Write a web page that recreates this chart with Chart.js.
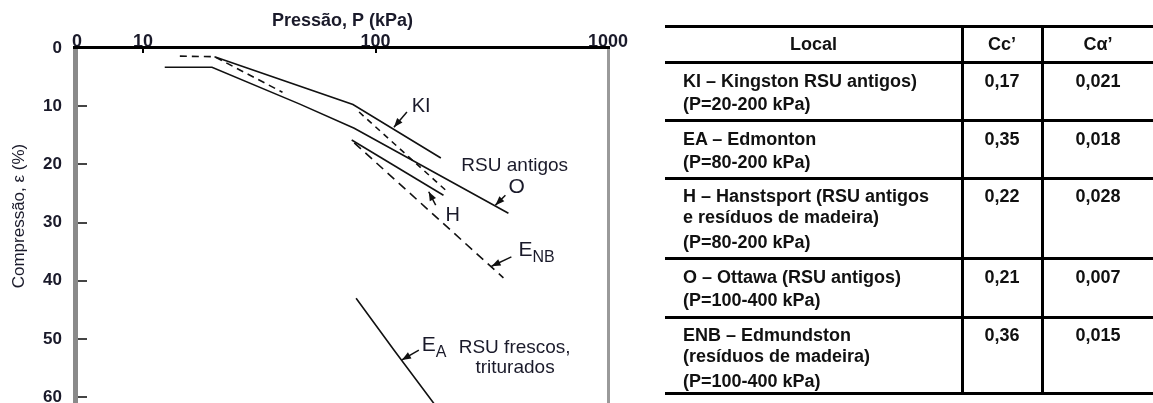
<!DOCTYPE html>
<html lang="pt">
<head>
<meta charset="UTF-8">
<title>Compressão x Pressão - RSU</title>
<script src="https://cdn.jsdelivr.net/npm/chart.js"></script>
<style>
  html, body { margin: 0; padding: 0; background: #fff; overflow: hidden; }
  body { width: 1153px; height: 403px; position: relative; font-family: 'Liberation Sans', Arial, sans-serif; }
  #chartBox { position: absolute; left: 0; top: 0; width: 640px; height: 403px; }
  #tabela { position: absolute; left: 0; top: 0; width: 1153px; height: 403px; color: #111; }
  .hl { position: absolute; height: 3px; background: #000; }
  .vl { position: absolute; width: 3px; background: #000; }
  .txt { position: absolute; font-weight: bold; font-size: 18px; line-height: 22px; white-space: nowrap; }
</style>
</head>
<body>

<div id="chartBox"><canvas id="grafico" width="640" height="403"></canvas></div>
<div id="tabela"></div>

<script>
    // eixos
    const xMin = 5.2, xMax = 1000;
    const xTickValues = [xMin, 10, 100, 1000];
    const xTickLabels = ['0', '10', '100', '1000'];
    const yTickValues = [0, 10, 20, 30, 40, 50, 60];
    const yMax = 61;

    // curvas: pressao P (kPa) e compressao (%)
    const kiP = [20.3, 80, 191];
    const kiEps = [1.5, 9.7, 18.9];
    const oP = [12.4, 19.8, 47, 81, 373];
    const oEps = [3.3, 3.3, 9.6, 13.8, 28.4];
    const enbP1 = [14.4, 20.3, 39.8];
    const enbEps1 = [1.4, 1.5, 7.6];
    const enbP2 = [81, 355];
    const enbEps2 = [16.3, 39.5];
    const hP1 = [85, 200];
    const hEps1 = [11.0, 24.4];
    const hP2 = [79, 196];
    const hEps2 = [15.8, 25.3];
    const eaP = [82.5, 120, 180];
    const eaEps = [43.0, 51.9, 61.3];

    // textos dentro do grafico
    const labelTexts = ['KI', 'RSU antigos', 'O', 'H', 'RSU frescos,', 'triturados'];
    const labelP = [143, 234, 373, 200, 228, 269];
    const labelEps = [10.0, 20.3, 24.0, 28.8, 51.5, 54.9];
    const labelSize = [20, 19, 21, 20, 19, 19];
    const subMain = ['E', 'E'];
    const subTexts = ['NB', 'A'];
    const subP = [412, 158];
    const subEps = [34.8, 51.1];

    // setas (de -> para)
    const arrowFromP = [136.5, 362, 181.5, 384, 153.6];
    const arrowFromEps = [11.0, 25.3, 27.0, 35.9, 51.9];
    const arrowToP = [120, 328, 169.4, 315.5, 129.9];
    const arrowToEps = [13.6, 27.0, 24.7, 37.5, 53.6];

    // tabela
    const tabHeader = ['Local', 'Cc’', 'Cα’'];
    const tabLocal = [
        ['KI – Kingston RSU antigos)', '(P=20-200 kPa)'],
        ['EA – Edmonton', '(P=80-200 kPa)'],
        ['H – Hanstsport (RSU antigos', 'e resíduos de madeira)', '(P=80-200 kPa)'],
        ['O – Ottawa (RSU antigos)', '(P=100-400 kPa)'],
        ['ENB – Edmundston', '(resíduos de madeira)', '(P=100-400 kPa)']
    ];
    const tabCc = ['0,17', '0,35', '0,22', '0,21', '0,36'];
    const tabCa = ['0,021', '0,018', '0,028', '0,007', '0,015'];

    const FONT = "'Liberation Sans', Arial, sans-serif";
    const TXT = '#1a1a2a';

    const pts = (p, e) => p.map((v, i) => ({ x: v, y: e[i] }));
    const line = { borderColor: '#111', borderWidth: 1.6, pointRadius: 0, showLine: true, fill: false, tension: 0 };

    const extras = {
        id: 'extras',
        afterDatasetsDraw(chart) {
            const ctx = chart.ctx;
            const { left, right, top, bottom } = chart.chartArea;
            const xs = chart.scales.x, ys = chart.scales.y;
            ctx.save();
            // molduras
            ctx.fillStyle = '#8a8a8a';
            ctx.fillRect(left - 4, top, 5, bottom - top);
            ctx.fillStyle = '#9a9a9a';
            ctx.fillRect(right - 1, top, 3, bottom - top);
            ctx.fillStyle = '#000';
            ctx.fillRect(left - 4, top - 2, right - left + 6, 3);
            // marcas
            ctx.strokeStyle = '#444';
            ctx.lineWidth = 2;
            yTickValues.slice(1).forEach(v => {
                const y = Math.round(ys.getPixelForValue(v));
                ctx.beginPath(); ctx.moveTo(left + 1, y); ctx.lineTo(left + 10, y); ctx.stroke();
            });
            ctx.strokeStyle = '#000';
            [10, 100].forEach(v => {
                const x = Math.round(xs.getPixelForValue(v));
                ctx.beginPath(); ctx.moveTo(x, top - 2); ctx.lineTo(x, top + 5); ctx.stroke();
            });
            // setas
            ctx.fillStyle = '#111';
            ctx.strokeStyle = '#111';
            ctx.lineWidth = 1.5;
            arrowFromP.forEach((p, i) => {
                const x0 = xs.getPixelForValue(p), y0 = ys.getPixelForValue(arrowFromEps[i]);
                const x1 = xs.getPixelForValue(arrowToP[i]), y1 = ys.getPixelForValue(arrowToEps[i]);
                const a = Math.atan2(y1 - y0, x1 - x0);
                ctx.beginPath(); ctx.moveTo(x0, y0); ctx.lineTo(x1, y1); ctx.stroke();
                ctx.beginPath();
                ctx.moveTo(x1, y1);
                ctx.lineTo(x1 - 9 * Math.cos(a) + 3.5 * Math.sin(a), y1 - 9 * Math.sin(a) - 3.5 * Math.cos(a));
                ctx.lineTo(x1 - 9 * Math.cos(a) - 3.5 * Math.sin(a), y1 - 9 * Math.sin(a) + 3.5 * Math.cos(a));
                ctx.closePath(); ctx.fill();
            });
            // textos
            ctx.fillStyle = TXT;
            ctx.textAlign = 'left';
            ctx.textBaseline = 'middle';
            labelTexts.forEach((t, i) => {
                ctx.font = labelSize[i] + 'px ' + FONT;
                ctx.fillText(t, xs.getPixelForValue(labelP[i]), ys.getPixelForValue(labelEps[i]));
            });
            subMain.forEach((t, i) => {
                const x = xs.getPixelForValue(subP[i]), y = ys.getPixelForValue(subEps[i]);
                ctx.font = '21px ' + FONT;
                ctx.fillText(t, x, y);
                const w = ctx.measureText(t).width;
                ctx.font = '16px ' + FONT;
                ctx.fillText(subTexts[i], x + w, y + 7);
            });
            ctx.restore();
        }
    };

    new Chart(document.getElementById('grafico').getContext('2d'), {
        type: 'scatter',
        data: {
            datasets: [
                { label: 'KI', data: pts(kiP, kiEps), ...line },
                { label: 'O', data: pts(oP, oEps), ...line },
                { label: 'ENB', data: pts(enbP1, enbEps1), ...line, borderDash: [7, 5] },
                { label: 'ENB', data: pts(enbP2, enbEps2), ...line, borderDash: [9, 6] },
                { label: 'H', data: pts(hP1, hEps1), ...line, borderDash: [6, 5] },
                { label: 'H', data: pts(hP2, hEps2), ...line },
                { label: 'EA', data: pts(eaP, eaEps), ...line }
            ]
        },
        options: {
            responsive: false,
            animation: false,
            devicePixelRatio: 1,
            layout: { padding: { left: 0, top: 0, right: 32, bottom: 0 } },
            plugins: { legend: { display: false }, tooltip: { enabled: false } },
            scales: {
                x: {
                    type: 'logarithmic',
                    position: 'top',
                    min: xMin,
                    max: xMax,
                    afterBuildTicks: s => { s.ticks = xTickValues.map(v => ({ value: v })); },
                    afterFit: s => { s.height = 48; s.paddingLeft = 0; s.paddingRight = 0; },
                    ticks: {
                        autoSkip: false, maxRotation: 0, padding: -5, color: TXT,
                        font: { family: FONT, size: 18, weight: 'bold' },
                        callback: (v, i) => xTickLabels[i]
                    },
                    grid: { display: false, drawTicks: false },
                    border: { display: false },
                    title: {
                        display: true, text: 'Pressão, P (kPa)', color: TXT,
                        font: { family: FONT, size: 18, weight: 'bold' },
                        padding: { top: 10, bottom: 0 }
                    }
                },
                y: {
                    type: 'linear',
                    reverse: true,
                    min: 0,
                    max: yMax,
                    afterBuildTicks: s => { s.ticks = yTickValues.map(v => ({ value: v })); },
                    afterFit: s => { s.width = 77; s.paddingTop = 0; s.paddingBottom = 0; },
                    ticks: { padding: 15, color: TXT, font: { family: FONT, size: 17, weight: 'bold' } },
                    grid: { display: false, drawTicks: false },
                    border: { display: false },
                    title: {
                        display: true, text: '    Compressão, ε (%)', color: TXT,
                        font: { family: FONT, size: 17 },
                        padding: { top: 9, bottom: 0 }
                    }
                }
            }
        },
        plugins: [extras]
    });

    // tabela a direita
    const rowY = [26, 62, 120, 178, 258, 317, 393];
    const colX = [665, 962, 1042, 1154];
    const box = document.getElementById('tabela');

    function put(cls, css, text) {
        const d = document.createElement('div');
        d.className = cls;
        Object.assign(d.style, css);
        if (text !== undefined) d.textContent = text;
        box.appendChild(d);
        return d;
    }

    rowY.forEach(y => put('hl', { left: colX[0] + 'px', top: (y - 1) + 'px', width: (1153 - colX[0]) + 'px' }));
    [colX[1], colX[2]].forEach(x => put('vl', { left: (x - 1) + 'px', top: (rowY[0] - 1) + 'px', height: (rowY[6] - rowY[0] + 3) + 'px' }));

    function centered(text, x0, x1, cy) {
        put('txt', { left: x0 + 'px', width: (x1 - x0) + 'px', top: (cy - 11) + 'px', textAlign: 'center' }, text);
    }

    tabHeader.forEach((t, i) => centered(t, colX[i], colX[i + 1], 44));

    tabLocal.forEach((lines, r) => {
        const top = rowY[r + 1];
        const offs = lines.length === 3 ? [17.5, 38.5, 63.5] : [18.5, 41.5];
        lines.forEach((t, k) => put('txt', { left: '683px', top: (top + offs[k] - 11) + 'px' }, t));
        centered(tabCc[r], colX[1], colX[2], top + offs[0]);
        centered(tabCa[r], colX[2], colX[3], top + offs[0]);
    });
</script>

</body>
</html>
